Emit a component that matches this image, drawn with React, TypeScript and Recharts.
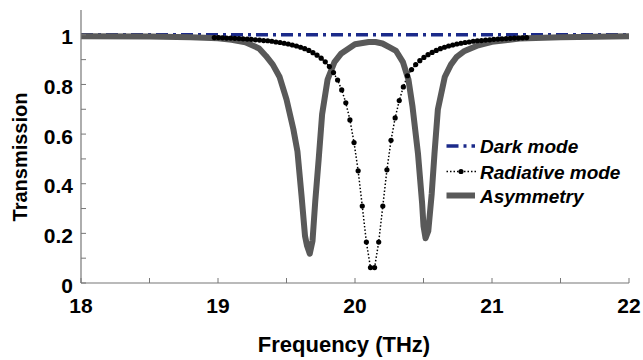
import React from 'react';
import { LineChart, Line, XAxis, YAxis, Legend } from 'recharts';

const FONT = '"Liberation Sans", Arial, Helvetica, sans-serif';
const AXIS = '#777777';

const xTicks = [18, 18.5, 19, 19.5, 20, 20.5, 21, 21.5, 22];
const xTickLabels = ['18', '', '19', '', '20', '', '21', '', '22'];
const yTicks = [0, 0.1, 0.2, 0.3, 0.4, 0.5, 0.6, 0.7, 0.8, 0.9, 1];
const yTickLabels = ['0', '', '0.2', '', '0.4', '', '0.6', '', '0.8', '', '1'];

const xTitle = 'Frequency (THz)';
const yTitle = 'Transmission';
const legendLabels = ['Dark mode', 'Radiative mode', 'Asymmetry'];

// Dark mode (flat)
const darkFreq = [18, 22];
const darkT = [1, 1];

// Radiative mode (sampled points, visible part above the asymmetry curve)
const radFreq = [
  18.973, 19.003, 19.033, 19.063, 19.093, 19.123, 19.153, 19.183, 19.213,
  19.243, 19.273, 19.303, 19.333, 19.363, 19.393, 19.423, 19.453, 19.483, 19.513,
  19.543, 19.573, 19.603, 19.633, 19.663, 19.693, 19.723, 19.753, 19.783, 19.813,
  19.843, 19.873, 19.903, 19.933, 19.963, 19.993, 20.023, 20.053, 20.083, 20.113,
  20.143, 20.173, 20.203, 20.233, 20.263, 20.293, 20.323, 20.353, 20.383, 20.413,
  20.443, 20.473, 20.503, 20.533, 20.563, 20.593, 20.623, 20.653, 20.683, 20.713,
  20.743, 20.773, 20.803, 20.833, 20.863, 20.893, 20.923, 20.953, 20.983, 21.013,
  21.043, 21.073, 21.103, 21.133, 21.163, 21.193, 21.223, 21.253,
];
const radT = [
  0.989, 0.989, 0.988, 0.987, 0.987, 0.986, 0.985, 0.984, 0.983,
  0.982, 0.98, 0.979, 0.977, 0.976, 0.974, 0.971, 0.969, 0.966, 0.963,
  0.959, 0.955, 0.95, 0.944, 0.937, 0.928, 0.918, 0.906, 0.891, 0.872,
  0.848, 0.818, 0.778, 0.726, 0.657, 0.566, 0.452, 0.31, 0.165, 0.062,
  0.062, 0.165, 0.31, 0.456, 0.575, 0.665, 0.735, 0.79, 0.835, 0.86,
  0.88, 0.896, 0.909, 0.92, 0.929, 0.937, 0.944, 0.95, 0.955, 0.959,
  0.963, 0.966, 0.969, 0.971, 0.974, 0.976, 0.977, 0.979, 0.98, 0.982,
  0.983, 0.984, 0.985, 0.986, 0.987, 0.987, 0.988, 0.989,
];

// Asymmetry (EIT-like double dip)
const asymFreq = [
  18, 18.5, 18.8, 19, 19.1, 19.2, 19.3, 19.35, 19.4, 19.45,
  19.5, 19.55, 19.58, 19.61, 19.635, 19.65, 19.67, 19.69, 19.71, 19.735,
  19.76, 19.8, 19.85, 19.9, 20, 20.1, 20.15, 20.2, 20.25, 20.3,
  20.35, 20.39, 20.42, 20.46, 20.49, 20.5, 20.515, 20.535, 20.56, 20.58,
  20.605, 20.655, 20.7, 20.74, 20.8, 20.9, 21, 21.2, 21.5, 22,
];
const asymT = [
  0.994, 0.993, 0.99, 0.986, 0.98, 0.97, 0.945, 0.915, 0.88, 0.83,
  0.74, 0.62, 0.53, 0.35, 0.19, 0.15, 0.118, 0.17, 0.33, 0.5,
  0.68, 0.82, 0.89, 0.925, 0.962, 0.971, 0.971, 0.965, 0.95, 0.935,
  0.89, 0.82, 0.71, 0.52, 0.32, 0.23, 0.18, 0.21, 0.36, 0.52,
  0.7, 0.83, 0.88, 0.91, 0.935, 0.958, 0.972, 0.985, 0.99, 0.994,
];

const darkData = darkFreq.map((f, i) => ({ f, t: darkT[i] }));
const radData = radFreq.map((f, i) => ({ f, t: radT[i] }));
const asymData = asymFreq.map((f, i) => ({ f, t: asymT[i] }));

const DARK_COLOR = '#1b2a8a';
const RAD_COLOR = '#000000';
const ASYM_COLOR = '#595959';

const labelFor = (ticks: number[], labels: string[], v: number) => {
  const i = ticks.findIndex((t) => Math.abs(t - v) < 1e-6);
  return i >= 0 ? labels[i] : '';
};

const BottomTick = (props: any) => {
  const { x, y, payload } = props;
  const label = labelFor(xTicks, xTickLabels, payload.value);
  return (
    <g>
      <line x1={x} y1={y} x2={x} y2={y - 5} stroke={AXIS} strokeWidth={1} />
      {label && (
        <text x={x} y={y + 30} textAnchor="middle" fontFamily={FONT} fontWeight="bold" fontSize={21} fill="#000">
          {label}
        </text>
      )}
    </g>
  );
};

const TopTick = (props: any) => {
  const { x, y } = props;
  return <line x1={x} y1={y} x2={x} y2={y + 5} stroke={AXIS} strokeWidth={1} />;
};

const LeftTick = (props: any) => {
  const { x, y, payload } = props;
  const label = labelFor(yTicks, yTickLabels, payload.value);
  return (
    <g>
      <line x1={x} y1={y} x2={x + 5} y2={y} stroke={AXIS} strokeWidth={1} />
      {label && (
        <text x={x - 8} y={y + 9.5} textAnchor="end" fontFamily={FONT} fontWeight="bold" fontSize={21} fill="#000">
          {label}
        </text>
      )}
    </g>
  );
};

const RightTick = (props: any) => {
  const { x, y } = props;
  return <line x1={x} y1={y} x2={x - 5} y2={y} stroke={AXIS} strokeWidth={1} />;
};

const LegendContent = () => {
  const rows = [14, 39.5, 63.5];
  const textStyle = { fontFamily: FONT, fontWeight: 'bold' as const, fontStyle: 'italic' as const, fontSize: 19 };
  return (
    <svg width={200} height={80} style={{ overflow: 'visible' }}>
      <line x1={6.5} y1={rows[0]} x2={35} y2={rows[0]} stroke={DARK_COLOR} strokeWidth={3.5} strokeDasharray="12 5 3 5" />
      <text x={40} y={rows[0] + 7} {...textStyle} fill="#000">{legendLabels[0]}</text>
      <line x1={6.5} y1={rows[1]} x2={36} y2={rows[1]} stroke={RAD_COLOR} strokeWidth={1.5} strokeDasharray="1.5 2" />
      <circle cx={21} cy={rows[1]} r={2.6} fill={RAD_COLOR} />
      <text x={40} y={rows[1] + 7} {...textStyle} fill="#000">{legendLabels[1]}</text>
      <line x1={6.5} y1={rows[2]} x2={35} y2={rows[2]} stroke={ASYM_COLOR} strokeWidth={6} />
      <text x={40} y={rows[2] + 7} {...textStyle} fill="#000">{legendLabels[2]}</text>
    </svg>
  );
};

export default function App() {
  return (
    <div style={{ position: 'absolute', left: 0, top: 0, width: 643, height: 360, background: '#fff' }}>
      <LineChart width={643} height={360} margin={{ top: 10, right: 14, left: 11, bottom: 0 }}>
        <XAxis
          dataKey="f"
          type="number"
          domain={[18, 22]}
          ticks={xTicks}
          interval={0}
          allowDataOverflow
          height={77}
          tickSize={0}
          tickMargin={0}
          tickLine={false}
          axisLine={{ stroke: AXIS, strokeWidth: 1.2 }}
          tick={<BottomTick />}
        />
        <XAxis
          xAxisId="top"
          orientation="top"
          dataKey="f"
          type="number"
          domain={[18, 22]}
          ticks={xTicks}
          interval={0}
          height={0}
          tickSize={0}
          tickMargin={0}
          tickLine={false}
          axisLine={{ stroke: AXIS, strokeWidth: 1.2 }}
          tick={<TopTick />}
        />
        <YAxis
          type="number"
          domain={[0, 1.1]}
          ticks={yTicks}
          interval={0}
          allowDataOverflow
          width={70}
          tickSize={0}
          tickMargin={0}
          tickLine={false}
          axisLine={{ stroke: AXIS, strokeWidth: 1.2 }}
          tick={<LeftTick />}
        />
        <YAxis
          yAxisId="right"
          orientation="right"
          type="number"
          domain={[0, 1.1]}
          ticks={yTicks}
          interval={0}
          width={0}
          tickSize={0}
          tickMargin={0}
          tickLine={false}
          axisLine={{ stroke: AXIS, strokeWidth: 1.2 }}
          tick={<RightTick />}
        />
        <Line
          data={darkData}
          dataKey="t"
          name={legendLabels[0]}
          type="linear"
          stroke={DARK_COLOR}
          strokeWidth={3.5}
          strokeDasharray="12 5 3 5"
          dot={false}
          activeDot={false}
          isAnimationActive={false}
        />
        <Line
          data={radData}
          dataKey="t"
          name={legendLabels[1]}
          type="linear"
          stroke={RAD_COLOR}
          strokeWidth={1.5}
          strokeDasharray="1.5 2"
          dot={{ r: 2.6, fill: RAD_COLOR, stroke: RAD_COLOR, strokeWidth: 0 }}
          activeDot={false}
          isAnimationActive={false}
        />
        <Line
          data={asymData}
          dataKey="t"
          name={legendLabels[2]}
          type="linear"
          stroke={ASYM_COLOR}
          strokeWidth={6}
          strokeLinejoin="round"
          dot={false}
          activeDot={false}
          isAnimationActive={false}
        />
        <Legend
          layout="horizontal"
          align="center"
          verticalAlign="middle"
          content={() => <LegendContent />}
          wrapperStyle={{ left: 440, top: 132, width: 200, height: 80 }}
        />
        <text x={344} y={352} textAnchor="middle" fontFamily={FONT} fontWeight="bold" fontSize={22} fill="#000">
          {xTitle}
        </text>
        <text
          x={0}
          y={0}
          transform="translate(27, 157) rotate(-90)"
          textAnchor="middle"
          fontFamily={FONT}
          fontWeight="bold"
          fontSize={20}
          fill="#000"
        >
          {yTitle}
        </text>
      </LineChart>
    </div>
  );
}
